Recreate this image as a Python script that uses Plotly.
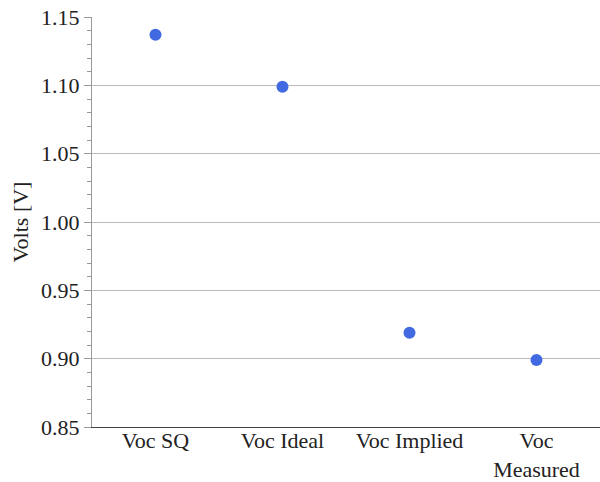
import plotly.graph_objects as go

categories = ["Voc SQ", "Voc Ideal", "Voc Implied", "Voc<br>Measured"]
volts = [1.137, 1.099, 0.919, 0.899]

fig = go.Figure()
fig.add_trace(go.Scatter(
    x=categories, y=volts, mode="markers",
    marker=dict(color="#4169E1", size=12),
    showlegend=False,
))

fig.update_layout(
    width=600, height=482,
    margin=dict(l=92, r=0, t=17, b=55),
    paper_bgcolor="white", plot_bgcolor="white",
    font=dict(family="'Liberation Serif', 'Times New Roman', serif", size=22, color="#222"),
    xaxis=dict(
        range=[-0.5, 3.5], showgrid=False, showline=True, linecolor="#444", linewidth=1,
        ticks="", tickfont=dict(size=22), automargin=False, ticklabelstandoff=-6,
    ),
    yaxis=dict(
        range=[0.85, 1.15], dtick=0.05, tickformat=".2f",
        showgrid=True, gridcolor="#bbbbbb", gridwidth=1,
        showline=True, linecolor="#999999", linewidth=1,
        ticks="outside", ticklen=7, tickcolor="#999999",
        minor=dict(dtick=0.01, ticks="outside", ticklen=4, tickcolor="#999999", showgrid=False),
        title=dict(text="Volts [V]", font=dict(size=22), standoff=6),
        zeroline=False, automargin=False,
    ),
)

fig.write_html("out.html")
